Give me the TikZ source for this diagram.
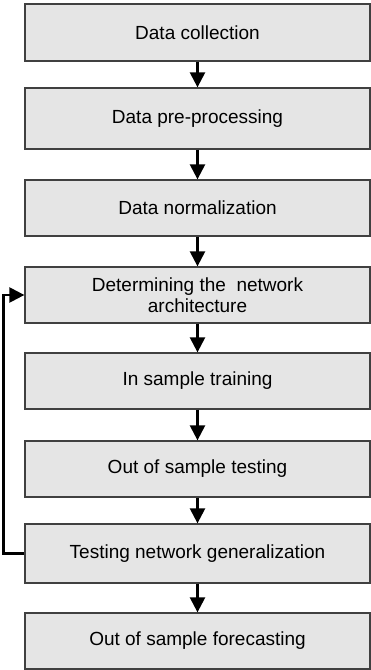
\documentclass[tikz,border=0pt]{standalone}
\usepackage{fontspec}
\setmainfont{Liberation Sans}
\usetikzlibrary{arrows.meta}
\tikzset{
  stepbox/.style={draw=black!75, line width=1.3pt, fill=black!10,
    minimum width=345pt, inner sep=0pt, align=center,
    font=\fontsize{19}{21.5}\selectfont},
  flow/.style={line width=2.4pt, -{Triangle[width=15pt,length=15pt]}}
}
\begin{document}
\begin{tikzpicture}[x=1pt,y=-1pt]
\useasboundingbox (0,0) rectangle (371,670);
\node[stepbox, minimum height=57pt] (n1) at (197.5,32.5) {Data collection};
\node[stepbox, minimum height=61pt] (n2) at (197.5,118.5) {Data pre-processing};
\node[stepbox, minimum height=56pt] (n3) at (197.5,208) {Data normalization};
\node[stepbox, minimum height=56pt] (n4) at (197.5,295) {Determining the\ \ network\\architecture};
\node[stepbox, minimum height=56pt] (n5) at (197.5,381) {In sample training};
\node[stepbox, minimum height=56pt] (n6) at (197.5,469) {Out of sample testing};
\node[stepbox, minimum height=59pt] (n7) at (197.5,553.5) {Testing network generalization};
\node[stepbox, minimum height=56pt] (n8) at (197.5,641) {Out of sample forecasting};
\draw[flow] (n1) -- (n2);
\draw[flow] (n2) -- (n3);
\draw[flow] (n3) -- (n4);
\draw[flow] (n4) -- (n5);
\draw[flow] (n5) -- (n6);
\draw[flow] (n6) -- (n7);
\draw[flow] (n7) -- (n8);
% feedback loop from generalization test back to architecture choice
\coordinate (fb) at (3.5,0);
\draw[flow] (n7.west) -- (fb |- n7.west) -- (fb |- n4.west) -- (n4.west);
\end{tikzpicture}
\end{document}
